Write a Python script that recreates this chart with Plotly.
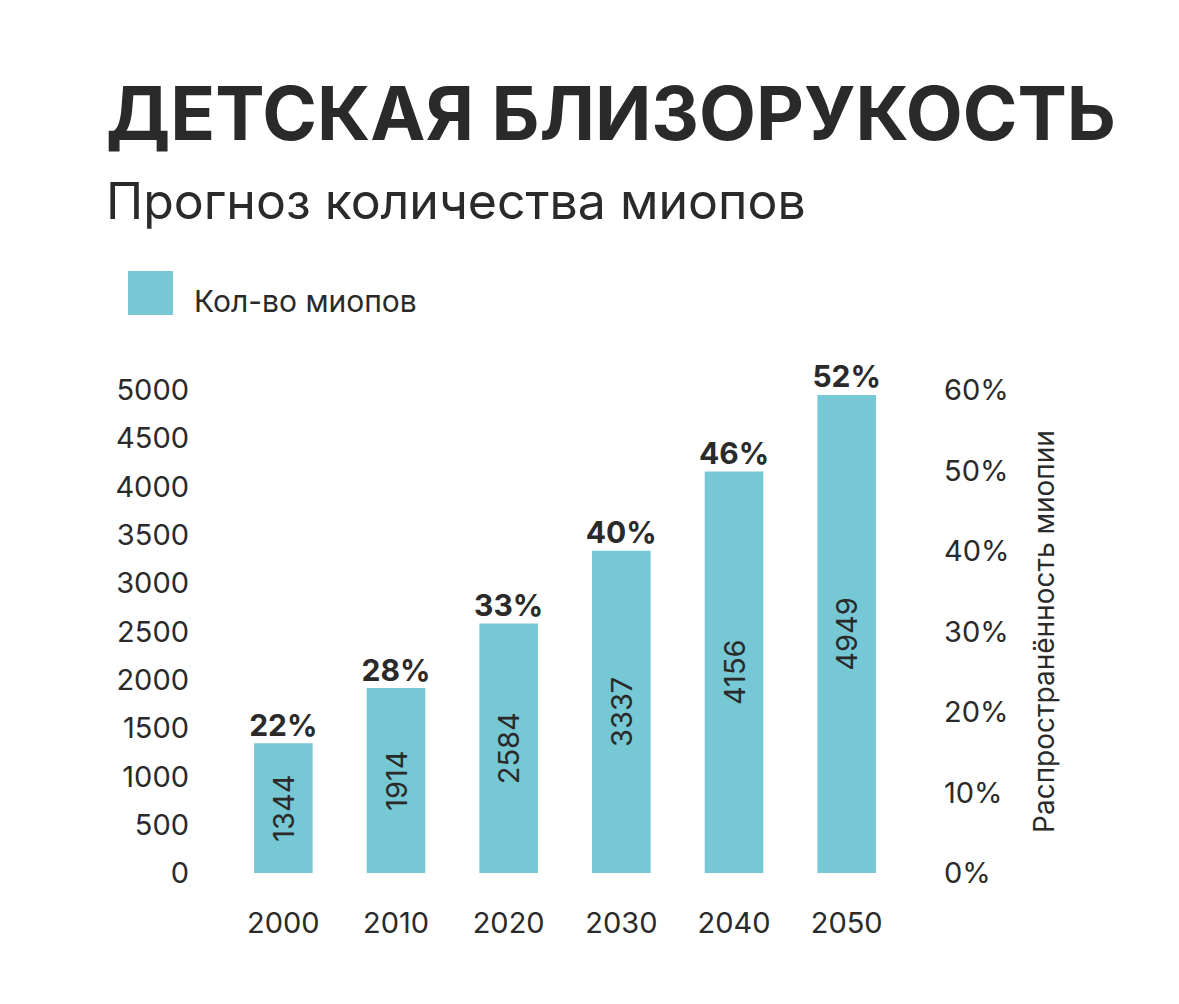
import plotly.graph_objects as go

years = ["2000", "2010", "2020", "2030", "2040", "2050"]
myopes = [1344, 1914, 2584, 3337, 4156, 4949]
prevalence = ["22%", "28%", "33%", "40%", "46%", "52%"]
left_ticks = [0, 500, 1000, 1500, 2000, 2500, 3000, 3500, 4000, 4500, 5000]
right_ticks = [0, 10, 20, 30, 40, 50, 60]
series_name = "Кол-во миопов"

BAR = "#76C8D5"
TXT = "#2a2a2a"
F = "Inter"
W, H = 1179, 1004
L, R, T, B = 219, 284, 382, 139
pw, ph = W - L - R, H - T - B

def px(x): return (x - L) / pw
def py(y): return (H - y - B) / ph

fig = go.Figure()
fig.add_bar(x=years, y=myopes, width=0.52, marker=dict(color=BAR, line=dict(width=0)),
            name=series_name, text=[str(v) for v in myopes], textposition="inside",
            insidetextanchor="middle", textangle=-90,
            textfont=dict(family=F, size=29, color=TXT), cliponaxis=False, showlegend=False)
fig.add_scatter(x=years, y=myopes, mode="text", text=prevalence, textposition="top center",
                textfont=dict(family=F, size=30, color=TXT, weight="bold"),
                showlegend=False, cliponaxis=False, hoverinfo="skip")
fig.add_scatter(x=years, y=[None]*6, yaxis="y2", showlegend=False, hoverinfo="skip")

fig.update_layout(
    width=W, height=H, paper_bgcolor="white", plot_bgcolor="white",
    margin=dict(l=L, r=R, t=T, b=B, autoexpand=False),
    font=dict(family=F, color=TXT),
    showlegend=False,
    xaxis=dict(type="category", range=[-0.5, 5.5], showline=False, showgrid=False,
               ticks="", tickfont=dict(family=F, size=29, color=TXT), ticklabelstandoff=30),
    yaxis=dict(range=[0, 5000], tickvals=left_ticks, showgrid=False, zeroline=False,
               ticks="", tickfont=dict(family=F, size=29, color=TXT), ticklabelstandoff=37),
    yaxis2=dict(overlaying="y", side="right", range=[0, 60], tickvals=right_ticks,
                ticktext=[f"{v}%" for v in right_ticks], showgrid=False, zeroline=False,
                ticks="", tickfont=dict(family=F, size=29, color=TXT), ticklabelstandoff=40,
                title=dict(text="Распространённость миопии", font=dict(family=F, size=28, color=TXT), standoff=25)),
    shapes=[dict(type="rect", xref="paper", yref="paper", x0=px(120), x1=px(165),
                 y0=py(307), y1=py(263), fillcolor=BAR, line=dict(width=0))],
    annotations=[
        dict(text="<b>ДЕТСКАЯ БЛИЗОРУКОСТЬ</b>", x=px(96), y=py(105), xref="paper", yref="paper",
             xanchor="left", yanchor="middle", showarrow=False,
             font=dict(family=F, size=74, color=TXT)),
        dict(text="Прогноз количества миопов", x=px(96), y=py(193), xref="paper", yref="paper",
             xanchor="left", yanchor="middle", showarrow=False,
             font=dict(family=F, size=50, color=TXT)),
        dict(text=series_name, x=px(184), y=py(293), xref="paper", yref="paper",
             xanchor="left", yanchor="middle", showarrow=False,
             font=dict(family=F, size=30, color=TXT)),
    ],
)
fig.write_html("out.html")
